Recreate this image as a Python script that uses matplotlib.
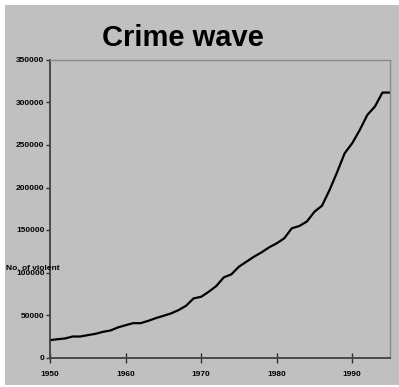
import matplotlib
matplotlib.use("Agg")
import matplotlib.pyplot as plt
from matplotlib.patches import Rectangle

plt.rcParams['font.family'] = ['Liberation Sans', 'DejaVu Sans']

years = list(range(1950, 1996))
crimes = [20400, 21500, 22400, 24700, 24700, 26300, 27800, 30200, 31800, 35400,
          38000, 40400, 40400, 43100, 46300, 49000, 51800, 55700, 60800, 69500,
          71400, 77300, 84000, 94300, 97800, 106800, 112700, 118600, 123700, 129600,
          134300, 140200, 152000, 154700, 160000, 171500, 178600, 197000, 218000, 240300,
          252100, 267700, 285400, 295200, 311700, 311700]
xticks = [1950, 1960, 1970, 1980, 1990]
yticks = [0, 50000, 100000, 150000, 200000, 250000, 300000, 350000]

W, H = 399, 387
fig = plt.figure(figsize=(W / 100, H / 100), dpi=100, facecolor='white')
bg = '#c0c0c0'
fig.patches.append(Rectangle((5 / W, 2 / H), 394 / W, 380 / H, transform=fig.transFigure,
                             facecolor=bg, edgecolor='none', zorder=-10))

ax = fig.add_axes([50 / W, 1 - 357.5 / H, 340 / W, 297.5 / H])
ax.set_facecolor(bg)
ax.plot(years, crimes, color='black', lw=1.6)

ax.set_xlim(1950, 1995)
ax.set_ylim(0, 350000)
ax.set_xticks(xticks)
ax.set_yticks(yticks)
ax.set_xticklabels([str(t) for t in xticks], fontsize=6, fontweight='bold')
ax.set_yticklabels([str(t) for t in yticks], fontsize=6, fontweight='bold')
ax.tick_params(axis='x', direction='inout', length=7, width=1, color='#303030', pad=6)
ax.tick_params(axis='y', direction='out', length=3, width=1, color='#303030', pad=1)

for s in ['left', 'bottom']:
    ax.spines[s].set_color('#404040')
    ax.spines[s].set_linewidth(1.3)
for s in ['top', 'right']:
    ax.spines[s].set_color('#8a8a8a')
    ax.spines[s].set_linewidth(1)

fig.text(183 / W, 1 - 38 / H, 'Crime wave', fontsize=21, fontweight='bold',
         ha='center', va='center')
fig.text(6 / W, 1 - 268 / H, 'No. of violent', fontsize=6, fontweight='bold',
         ha='left', va='center')

fig.savefig('out.png', dpi=100, facecolor='white')
